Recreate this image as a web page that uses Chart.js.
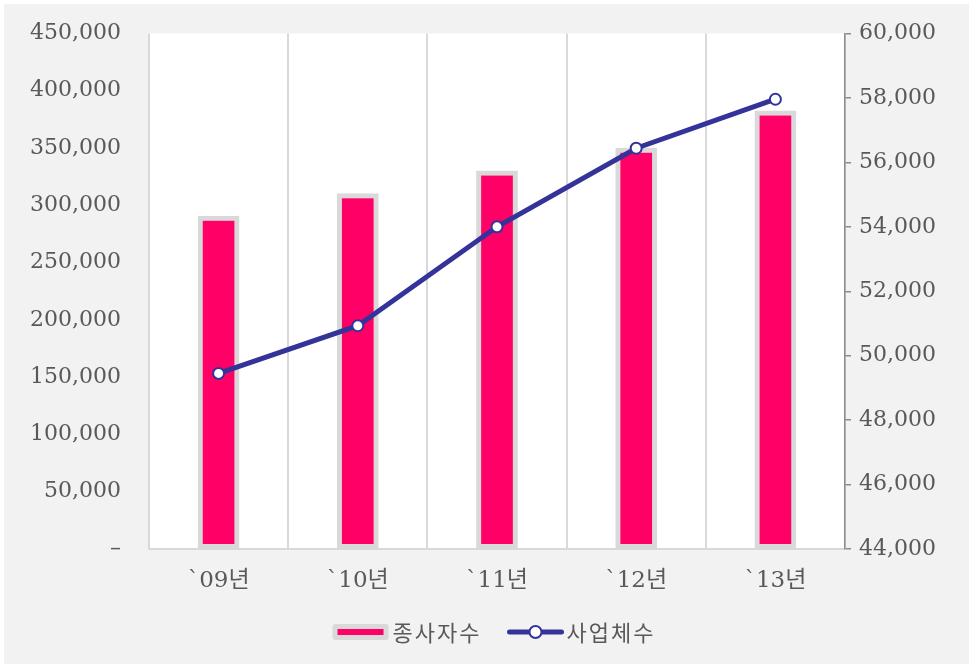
<!DOCTYPE html>
<html>
<head>
<meta charset="utf-8">
<script src="https://cdn.jsdelivr.net/npm/chart.js@4/dist/chart.umd.min.js"></script>
<style>
  html, body { margin: 0; padding: 0; background: #ffffff; }
  #wrap { position: absolute; left: 4px; top: 4px; width: 965px; height: 660px; background: #f2f2f2; }
</style>
</head>
<body>
<div id="wrap"><canvas id="chart" width="965" height="660"></canvas></div>
<script>
// categories and series
const years = ['`09년', '`10년', '`11년', '`12년', '`13년'];
const workers = [291000, 310500, 330400, 350200, 382800];     // 종사자수 (left axis)
const businesses = [49450, 50930, 54000, 56440, 57960];       // 사업체수 (right axis)
const leftTicks = [0, 50000, 100000, 150000, 200000, 250000, 300000, 350000, 400000, 450000];
const rightTicks = [44000, 46000, 48000, 50000, 52000, 54000, 56000, 58000, 60000];

const PINK = '#ff0066';
const BLUE = '#333399';
const EDGE = '#d9d9d9';
const TXT = '#595959';
const NUM_FONT = '"DejaVu Serif", "Noto Sans CJK KR", serif';
const KR_FONT = '"Noto Sans CJK KR", sans-serif';

const fmt = v => v === 0 ? '–' : v.toLocaleString('en-US');

// white plot area
const plotBg = {
  id: 'plotBg',
  beforeDraw(chart) {
    const a = chart.chartArea;
    const ctx = chart.ctx;
    ctx.save();
    ctx.fillStyle = '#ffffff';
    ctx.fillRect(a.left, a.top, a.right - a.left, a.bottom - a.top);
    ctx.restore();
  }
};

// legend drawn by hand: bar box + line with marker
const legendPlugin = {
  id: 'customLegend',
  afterDraw(chart) {
    const ctx = chart.ctx;
    const y = 628;
    ctx.save();
    ctx.font = '22px ' + KR_FONT;
    ctx.letterSpacing = '2px';
    ctx.textBaseline = 'middle';
    const t1 = chart.data.datasets[0].label;
    const t2 = chart.data.datasets[1].label;
    const w1 = ctx.measureText(t1).width;
    const w2 = ctx.measureText(t2).width;
    const total = 56 + 4 + w1 + 26 + 56 + 3 + w2;
    let x = 490 - total / 2;

    // bar swatch
    ctx.fillStyle = EDGE;
    ctx.beginPath();
    ctx.roundRect(x, y - 8, 56, 16, 3);
    ctx.fill();
    ctx.fillStyle = PINK;
    ctx.fillRect(x + 5, y - 3, 46, 6);
    x += 60;
    ctx.fillStyle = TXT;
    ctx.fillText(t1, x, y + 1);
    x += w1 + 26;

    // line swatch
    ctx.strokeStyle = BLUE;
    ctx.lineWidth = 5;
    ctx.lineCap = 'round';
    ctx.beginPath();
    ctx.moveTo(x + 2, y);
    ctx.lineTo(x + 54, y);
    ctx.stroke();
    ctx.beginPath();
    ctx.arc(x + 28, y, 6, 0, Math.PI * 2);
    ctx.fillStyle = '#ffffff';
    ctx.fill();
    ctx.lineWidth = 2;
    ctx.stroke();
    x += 59;
    ctx.fillStyle = TXT;
    ctx.fillText(t2, x, y + 1);
    ctx.restore();
  }
};

// fixed axis sizes; drop the label padding chart.js adds above/below vertical axes
const fitY = w => s => { s.width = w; s.paddingTop = 0; s.paddingBottom = 0; };

new Chart(document.getElementById('chart'), {
  data: {
    labels: years,
    datasets: [
      {
        type: 'bar',
        label: '종사자수',
        data: workers,
        yAxisID: 'y',
        backgroundColor: PINK,
        borderColor: EDGE,
        borderWidth: 5,
        borderSkipped: false,
        barPercentage: 0.3,
        categoryPercentage: 1,
        order: 2
      },
      {
        type: 'line',
        label: '사업체수',
        data: businesses,
        yAxisID: 'y1',
        borderColor: BLUE,
        borderWidth: 5,
        pointRadius: 5.5,
        pointBorderWidth: 2,
        pointBackgroundColor: '#ffffff',
        pointBorderColor: BLUE,
        tension: 0,
        order: 1
      }
    ]
  },
  options: {
    responsive: false,
    animation: false,
    layout: { padding: { top: 29.5, left: 0, right: 0, bottom: 0 } },
    plugins: {
      legend: { display: false },
      tooltip: { enabled: false }
    },
    scales: {
      x: {
        offset: true,
        grid: { offset: true, color: EDGE, lineWidth: 2, drawTicks: false },
        border: { color: EDGE, width: 2 },
        ticks: { color: TXT, font: { family: NUM_FONT, size: 23 }, padding: 18 },
        afterFit: s => { s.height = 115; }
      },
      y: {
        position: 'left',
        min: 0,
        max: 450000,
        afterBuildTicks: s => { s.ticks = leftTicks.map(v => ({ value: v })); },
        grid: { display: false, drawTicks: false },
        border: { display: false },
        ticks: { color: TXT, font: { family: NUM_FONT, size: 22 }, padding: 28, callback: fmt },
        afterFit: fitY(145)
      },
      y1: {
        position: 'right',
        min: 44000,
        max: 60000,
        afterBuildTicks: s => { s.ticks = rightTicks.map(v => ({ value: v })); },
        grid: { drawOnChartArea: false, color: '#8c8c8c', tickLength: 6, lineWidth: 1.5 },
        border: { color: '#8c8c8c', width: 1.5 },
        ticks: { color: TXT, font: { family: NUM_FONT, size: 22 }, padding: 8, callback: fmt },
        afterFit: fitY(124)
      }
    }
  },
  plugins: [plotBg, legendPlugin]
});
</script>
</body>
</html>
